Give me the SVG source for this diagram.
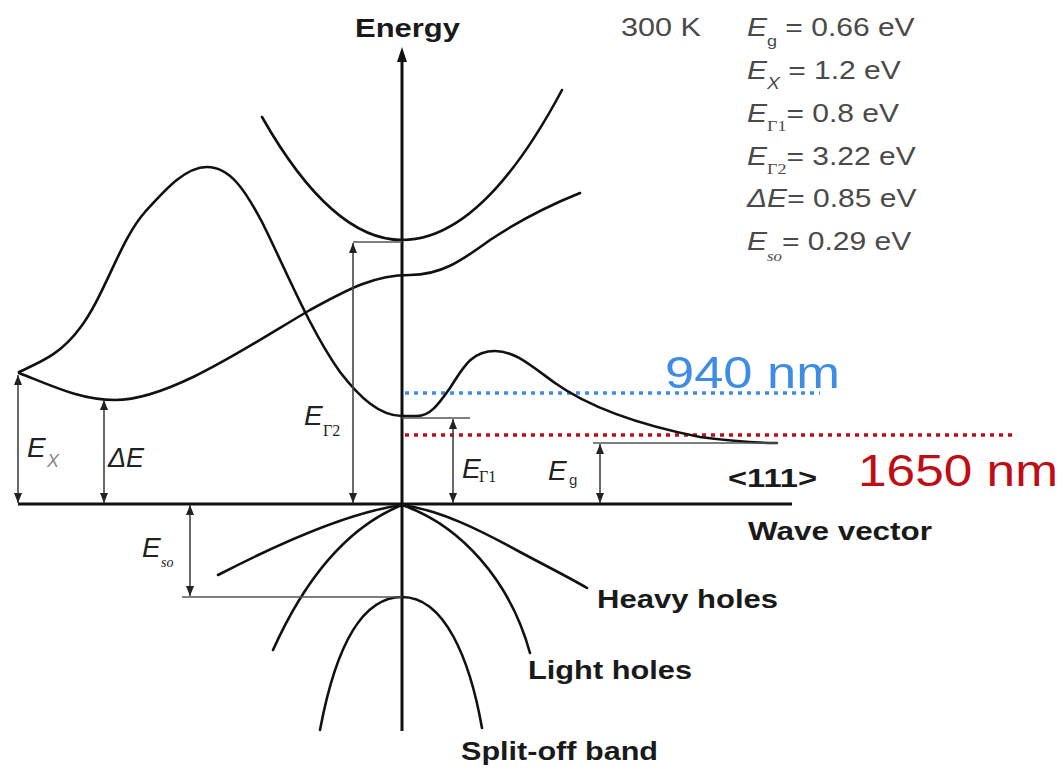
<svg xmlns="http://www.w3.org/2000/svg" width="1064" height="772" viewBox="0 0 1064 772">
<style>
.band{fill:none;stroke:#111;stroke-width:2.6;stroke-linecap:round;stroke-linejoin:round}
.axis{fill:none;stroke:#111;stroke-width:3}
.dim{fill:none;stroke:#444;stroke-width:1.6}
.ref{fill:none;stroke:#555;stroke-width:1.6}
.lbl{font-family:"Liberation Sans",Arial,sans-serif;font-weight:bold;font-size:26px;fill:#1a1a1a}
.sym{font-family:"Liberation Sans",Arial,sans-serif;font-style:italic;font-size:28px;fill:#222}
.ssub{font-family:"Liberation Sans",Arial,sans-serif;font-size:15px;fill:#333}
.sub{font-family:"Liberation Serif","Times New Roman",serif;font-size:16px;fill:#222}
.par{font-family:"Liberation Sans",Arial,sans-serif;font-size:25px;fill:#4a4a4a}
.big{font-family:"Liberation Sans",Arial,sans-serif;font-size:44px}
</style>
<defs>
<marker id="ah" viewBox="0 0 10 10" refX="10" refY="5" markerWidth="10" markerHeight="10" markerUnits="userSpaceOnUse" orient="auto-start-reverse">
<path d="M0,1 L10,5 L0,9 z" fill="#222"/>
</marker>
</defs>
<rect width="1064" height="772" fill="#fff"/>

<g id="axes">
<line class="axis" x1="18" y1="504" x2="792" y2="504"/>
<line class="axis" x1="402" y1="731" x2="402" y2="58"/>
<polygon points="402,47 397,62 407,62" fill="#111"/>
</g>

<g id="dotted-lines">
<line x1="405" y1="393" x2="820" y2="393" stroke="#3f8ce6" stroke-width="3.5" stroke-dasharray="4 5"/>
<line x1="405" y1="435" x2="1017" y2="435" stroke="#c00c14" stroke-width="3.5" stroke-dasharray="4 5"/>
</g>

<g id="conduction-bands">
<path class="band" d="M262,117 Q332,240 402,240 Q482,240 562,90"/>
<path class="band" d="M19,373 C50,385 80,400 115,400 C170,400 250,345 310,310 C350,288 375,275 410,275 C440,275 460,262 490,240 C520,220 550,205 580,193"/>
<path class="band" d="M19,372 C40,362 60,355 80,328 C105,295 120,240 145,212 C165,190 185,167 207,167 C230,167 245,190 262,222 C285,268 310,330 340,372 C360,398 380,416 402,416 L417,416 C430,416 438,405 450,388 C462,370 470,351 495,351 C515,351 530,365 555,383 C590,408 640,425 700,437 C730,441 755,443 777,443"/>
</g>

<g id="valence-bands">
<path class="band" d="M218,575 C280,543 350,512 402,505 C440,510 480,530 520,552 C550,568 570,578 587,588"/>
<path class="band" d="M273,650 C300,590 340,530 402,505 C460,525 510,580 530,653"/>
<path class="band" d="M320,730 C335,650 360,597 402,597 C445,597 470,660 482,728"/>
</g>

<g id="reference-lines">
<line class="ref" x1="353" y1="242" x2="402" y2="242"/>
<line class="ref" x1="402" y1="418" x2="470" y2="418"/>
<line class="ref" x1="593" y1="443" x2="778" y2="443"/>
<line class="ref" x1="182" y1="597" x2="402" y2="597"/>
</g>

<g id="connectors">
<line class="dim" x1="18" y1="375" x2="18" y2="503" marker-start="url(#ah)" marker-end="url(#ah)"/>
<line class="dim" x1="104" y1="400" x2="104" y2="503" marker-start="url(#ah)" marker-end="url(#ah)"/>
<line class="dim" x1="353" y1="243" x2="353" y2="503" marker-start="url(#ah)" marker-end="url(#ah)"/>
<line class="dim" x1="453" y1="419" x2="453" y2="503" marker-start="url(#ah)" marker-end="url(#ah)"/>
<line class="dim" x1="600" y1="444" x2="600" y2="503" marker-start="url(#ah)" marker-end="url(#ah)"/>
<line class="dim" x1="190" y1="505" x2="190" y2="596" marker-start="url(#ah)" marker-end="url(#ah)"/>
</g>

<g id="dimension-labels">
<g id="lbl-Ex"><text class="sym" x="27" y="457">E</text><text class="ssub" x="47" y="467" style="font-style:italic;font-size:18px;fill:#888">X</text></g>
<g id="lbl-dE"><text class="sym" x="108" y="467" style="font-size:27px">ΔE</text></g>
<g id="lbl-EG2"><text class="sym" x="304" y="425">E</text><text class="sub" x="323" y="436">Γ2</text></g>
<g id="lbl-EG1"><text class="sym" x="462" y="478">E</text><text class="sub" x="479" y="482">Γ1</text></g>
<g id="lbl-Eg"><text class="sym" x="548" y="480">E</text><text class="ssub" x="569" y="485">g</text></g>
<g id="lbl-Eso"><text class="sym" x="142" y="557">E</text><text class="sub" x="161" y="567" style="font-style:italic;font-size:14px">so</text></g>
</g>

<g id="axis-labels">
<text class="lbl" x="355" y="37" textLength="105" lengthAdjust="spacingAndGlyphs">Energy</text>
<text class="lbl" x="748" y="540" textLength="184" lengthAdjust="spacingAndGlyphs">Wave vector</text>
<text class="lbl" x="728" y="487" textLength="89" lengthAdjust="spacingAndGlyphs">&lt;111&gt;</text>
<text class="lbl" x="597" y="608" textLength="181" lengthAdjust="spacingAndGlyphs">Heavy holes</text>
<text class="lbl" x="528" y="679" textLength="164" lengthAdjust="spacingAndGlyphs">Light holes</text>
<text class="lbl" x="461" y="760" textLength="197" lengthAdjust="spacingAndGlyphs">Split-off band</text>
</g>

<g id="wavelengths">
<text class="big" x="665" y="388" fill="#3f8ce6" textLength="175" lengthAdjust="spacingAndGlyphs">940 nm</text>
<text class="big" x="858" y="486" fill="#c00c14" textLength="200" lengthAdjust="spacingAndGlyphs">1650 nm</text>
</g>

<g id="parameters">
<text class="par" x="621" y="36" textLength="80" lengthAdjust="spacingAndGlyphs">300 K</text>
<g transform="translate(747,36) scale(1.2,1)"><text class="par" x="0" y="0"><tspan font-style="italic">E</tspan><tspan font-size="15" dy="10">g</tspan><tspan dy="-10"> = 0.66 eV</tspan></text></g>
<g transform="translate(747,79) scale(1.2,1)"><text class="par" x="0" y="0"><tspan font-style="italic">E</tspan><tspan font-size="16" font-style="italic" dy="10">X</tspan><tspan dy="-10"> = 1.2 eV</tspan></text></g>
<g transform="translate(747,122) scale(1.2,1)"><text class="par" x="0" y="0"><tspan font-style="italic">E</tspan><tspan font-family="'Liberation Serif',serif" font-size="15" dy="9">Γ1</tspan><tspan dy="-9">= 0.8 eV</tspan></text></g>
<g transform="translate(747,165) scale(1.2,1)"><text class="par" x="0" y="0"><tspan font-style="italic">E</tspan><tspan font-family="'Liberation Serif',serif" font-size="15" dy="9">Γ2</tspan><tspan dy="-9">= 3.22 eV</tspan></text></g>
<g transform="translate(747,207) scale(1.2,1)"><text class="par" x="0" y="0"><tspan font-style="italic">ΔE</tspan>= 0.85 eV</text></g>
<g transform="translate(747,250) scale(1.2,1)"><text class="par" x="0" y="0"><tspan font-style="italic">E</tspan><tspan font-family="'Liberation Serif',serif" font-style="italic" font-size="14" dy="11">so</tspan><tspan dy="-11">= 0.29 eV</tspan></text></g>
</g>
</svg>
